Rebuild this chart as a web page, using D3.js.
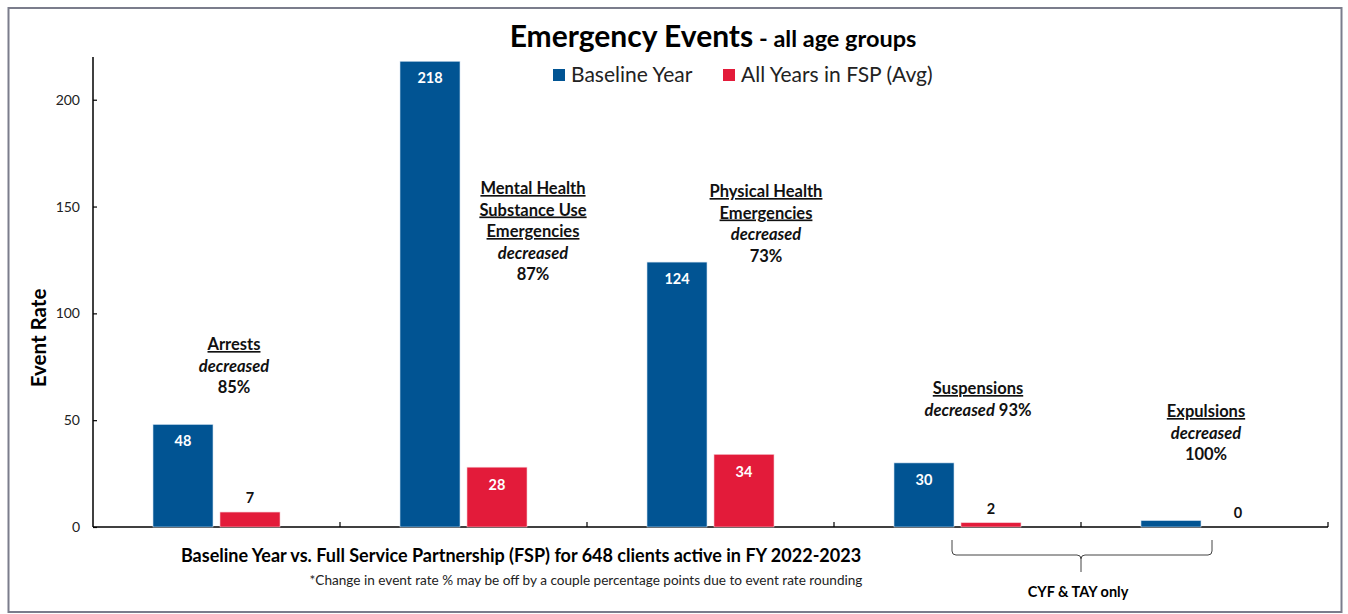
<!DOCTYPE html>
<html><head><meta charset="utf-8">
<script src="https://cdn.jsdelivr.net/npm/d3@7"></script>
<style>
html,body{margin:0;padding:0;background:#fff;}
svg{display:block;font-family:Lato,"Open Sans",sans-serif;}
</style></head>
<body>
<svg id="chart" width="1348" height="614"></svg>
<script>
const categories = ["Arrests","Mental Health Substance Use Emergencies","Physical Health Emergencies","Suspensions","Expulsions"];
const baselineValues = [48, 218, 124, 30, 3];
const fspValues = [7, 28, 34, 2, 0];
const seriesNames = ["Baseline Year", "All Years in FSP (Avg)"];
const yTicks = [0, 50, 100, 150, 200];
const baselineLabels = ["48","218","124","30",""];
const fspLabels = ["7","28","34","2","0"];
const reductionPct = ["85%","87%","73%","93%","100%"];
const headingLines = [["Arrests"],["Mental Health","Substance Use","Emergencies"],["Physical Health","Emergencies"],["Suspensions"],["Expulsions"]];

const BLUE = "#015493", RED = "#e31b3a";
const svg = d3.select("#chart");

// outer frame
svg.append("rect").attr("x",8.5).attr("y",8).attr("width",1333).attr("height",604)
  .attr("fill","none").attr("stroke","#7b7d8c").attr("stroke-width",2);

const m = {left:93, right:1328, top:57, bottom:527};
const x = d3.scaleBand().domain(d3.range(categories.length)).range([m.left, m.right]).padding(0);
const y = d3.scaleLinear().domain([0,220]).range([m.bottom, m.top]);

// y axis
const yAxis = d3.axisRight(y).tickValues(yTicks).tickSize(4).tickFormat(d3.format("d"));
const yg = svg.append("g").attr("transform",`translate(${m.left},0)`).call(yAxis);
yg.select(".domain").attr("stroke","#000").attr("stroke-width",1.5).attr("d",`M0,${m.top}V${m.bottom}`);
yg.selectAll(".tick line").attr("stroke","#000").attr("stroke-width",1.2);
yg.selectAll(".tick text").attr("x",-13).attr("text-anchor","end").attr("fill","#222")
  .attr("font-size",14).attr("font-family","Lato,sans-serif");

// x axis
const xg = svg.append("g");
xg.append("line").attr("x1",m.left).attr("x2",m.right).attr("y1",m.bottom).attr("y2",m.bottom)
  .attr("stroke","#000").attr("stroke-width",1.5);
d3.range(1,categories.length+1).forEach(i=>{
  const xx = m.left + x.bandwidth()*i;
  xg.append("line").attr("x1",xx).attr("x2",xx).attr("y1",m.bottom).attr("y2",m.bottom-5)
    .attr("stroke","#000").attr("stroke-width",1.2);
});

const bw = 60, gap = 3.5;
const cx = i => x(i) + x.bandwidth()/2;

// bars
const bars = svg.append("g");
bars.selectAll(".b").data(baselineValues).join("rect")
  .attr("x",(d,i)=>cx(i)-gap-bw).attr("width",bw)
  .attr("y",d=>y(d)).attr("height",d=>y(0)-y(d))
  .attr("fill",BLUE).attr("stroke","#cfe0f0").attr("stroke-width",0.6);
bars.selectAll(".r").data(fspValues).join("rect")
  .attr("x",(d,i)=>cx(i)+gap).attr("width",bw)
  .attr("y",d=>y(d)).attr("height",d=>y(0)-y(d))
  .attr("fill",RED).attr("stroke","#f6c8d0").attr("stroke-width",0.6);

// value labels
svg.append("g").selectAll("text").data(baselineValues).join("text")
  .attr("x",(d,i)=>cx(i)-gap-bw/2).attr("y",d=>y(d)+22)
  .attr("text-anchor","middle").attr("font-size",14.5).attr("font-weight","bold").attr("fill","#fff")
  .text((d,i)=>baselineLabels[i]);
svg.append("g").selectAll("text").data(fspValues).join("text")
  .attr("x",(d,i)=>cx(i)+gap+bw/2)
  .attr("y",d=> d>15 ? y(d)+23 : y(d)-9)
  .attr("text-anchor","middle").attr("font-size",14.5).attr("font-weight","bold")
  .attr("fill",d=> d>15 ? "#fff" : "#111")
  .text((d,i)=>fspLabels[i]);

// annotations
const annPos = [
  {cx:234, y:350, layout:"stack"},
  {cx:533, y:194, layout:"stack"},
  {cx:766, y:197, layout:"stack"},
  {cx:978, y:394, layout:"inline"},
  {cx:1206, y:417, layout:"stack"}
];
const LH = 21.5, AFS = 16.5;
const ann = svg.append("g").attr("fill","#111");
categories.forEach((c,i)=>{
  const p = annPos[i];
  let yy = p.y;
  headingLines[i].forEach(line=>{
    ann.append("text").attr("x",p.cx).attr("y",yy).attr("text-anchor","middle")
      .attr("font-size",AFS).attr("font-weight","bold").attr("text-decoration","underline").text(line);
    yy += LH;
  });
  if (p.layout==="stack"){
    ann.append("text").attr("x",p.cx).attr("y",yy).attr("text-anchor","middle")
      .attr("font-size",AFS).attr("font-style","italic").attr("font-weight","bold").text("decreased");
    yy += LH;
    ann.append("text").attr("x",p.cx).attr("y",yy).attr("text-anchor","middle")
      .attr("font-size",AFS).attr("font-weight","bold").text(reductionPct[i]);
  } else {
    const t = ann.append("text").attr("x",p.cx).attr("y",yy).attr("text-anchor","middle")
      .attr("font-size",AFS).attr("font-weight","bold");
    t.append("tspan").attr("font-style","italic").text("decreased");
    t.append("tspan").text(" " + reductionPct[i]);
  }
});

// title
const title = svg.append("text").attr("x",713).attr("y",47).attr("text-anchor","middle")
  .attr("font-weight","bold").attr("fill","#000");
title.append("tspan").attr("font-size",30).text("Emergency Events");
title.append("tspan").attr("font-size",23.5).text(" - all age groups");

// legend
const legend = svg.append("g").attr("font-size",21).attr("fill","#222");
const legItems = [{x:553, c:BLUE},{x:723, c:RED}];
seriesNames.forEach((n,i)=>{
  legend.append("rect").attr("x",legItems[i].x).attr("y",69).attr("width",12).attr("height",12).attr("fill",legItems[i].c);
  legend.append("text").attr("x",legItems[i].x+18).attr("y",82).text(n);
});

// y axis title
svg.append("text").attr("transform","translate(46,338) rotate(-90)").attr("text-anchor","middle")
  .attr("font-size",20.5).attr("font-weight","bold").attr("fill","#000").text("Event Rate");

// x axis title and footnote
svg.append("text").attr("x",521).attr("y",562).attr("text-anchor","middle")
  .attr("font-size",18).attr("font-weight","bold").attr("fill","#000")
  .text("Baseline Year vs. Full Service Partnership (FSP) for 648 clients active in FY 2022-2023");
svg.append("text").attr("x",586).attr("y",585).attr("text-anchor","middle")
  .attr("font-size",13.6).attr("fill","#222")
  .text("*Change in event rate % may be off by a couple percentage points due to event rate rounding");

// brace for CYF & TAY
const bx1 = 952, bx2 = 1212, bmid = (bx1+bx2)/2 - 1, by0 = 540, by1 = 555, btip = 572;
svg.append("path")
  .attr("d",`M${bx1},${by0} L${bx1},${by1-4} Q${bx1},${by1} ${bx1+4},${by1} L${bmid-4},${by1} Q${bmid},${by1} ${bmid},${by1+4} L${bmid},${btip} M${bmid},${by1+4} Q${bmid},${by1} ${bmid+4},${by1} L${bx2-4},${by1} Q${bx2},${by1} ${bx2},${by1-4} L${bx2},${by0}`)
  .attr("fill","none").attr("stroke","#444").attr("stroke-width",1);
svg.append("text").attr("x",1078).attr("y",597).attr("text-anchor","middle")
  .attr("font-size",14.5).attr("font-weight","bold").attr("fill","#000").text("CYF & TAY only");
</script>
</body></html>
